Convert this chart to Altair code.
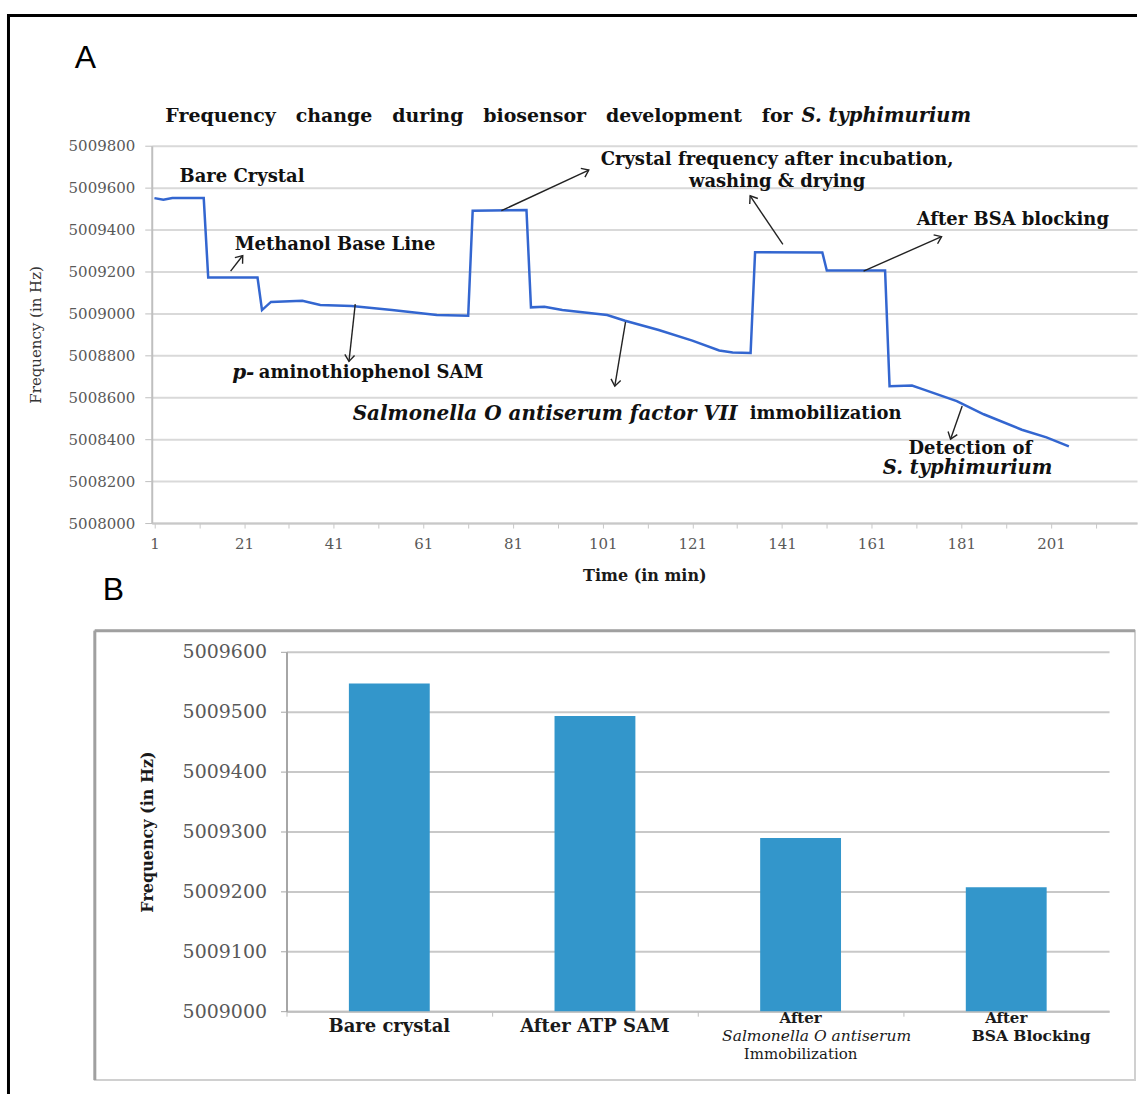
import math
import altair as alt
import pandas as pd

# ---------------- Panel A : frequency vs time ----------------
time_min = [1, 3, 5, 12, 13, 24, 25, 27, 34, 38, 45, 54, 64, 71, 72, 84, 85, 88, 92, 102,
            106, 113.5, 121, 127, 130, 134, 135, 150, 151, 164, 165, 170, 172, 180, 186, 194.5, 200, 205]
freq_hz = [5009550, 5009542, 5009550, 5009550, 5009171, 5009171, 5009016, 5009055, 5009060, 5009040,
           5009035, 5009016, 5008992, 5008989, 5009490, 5009493, 5009029, 5009032, 5009016, 5008992,
           5008965, 5008921, 5008870, 5008823, 5008814, 5008811, 5009292, 5009291, 5009205, 5009205,
           5008653, 5008656, 5008641, 5008582, 5008519, 5008445, 5008409, 5008366]
ytick_A = list(range(5008000, 5009801, 200))
xtick_A = list(range(1, 212, 10))

# arrows: tail (t1, f1) -> head (t2, f2)
arrow_t1 = [18.0, 45.8, 78.4, 141.2, 159.2, 106.1, 181.2]
arrow_f1 = [5009202, 5009044, 5009490, 5009329, 5009202, 5008960, 5008558]
arrow_t2 = [20.7, 44.4, 97.9, 133.9, 176.6, 103.7, 178.6]
arrow_f2 = [5009276, 5008771, 5009684, 5009561, 5009366, 5008653, 5008400]

# annotations
bold_left_lab = ["Bare Crystal", "Methanol Base Line", "aminothiophenol SAM", "immobilization"]
bold_left_t = [6.6, 18.9, 24.3, 133.8]
bold_left_f = [5009652, 5009324, 5008716, 5008519]

bold_center_lab = ["Crystal frequency after incubation,", "washing & drying", "After BSA blocking", "Detection of"]
bold_center_t = [139.9, 139.9, 192.5, 183.0]
bold_center_f = [5009730, 5009628, 5009447, 5008353]

ital_right_lab = ["p-", "Salmonella O antiserum factor VII"]
ital_right_t = [23.3, 131.1]
ital_right_f = [5008716, 5008519]

ital_center_lab = ["S. typhimurium"]
ital_center_t = [182.4]
ital_center_f = [5008261]

title_main = "Frequency\u00a0\u00a0 change\u00a0\u00a0 during\u00a0\u00a0 biosensor\u00a0\u00a0 development\u00a0\u00a0 for"
title_ital = "S. typhimurium"

# ---------------- Panel B : bars ----------------
stages = ["Bare crystal", "After ATP SAM", "After Salmonella O antiserum Immobilization", "After BSA Blocking"]
stage_freq = [5009547, 5009493, 5009289, 5009207]
ytick_B = list(range(5009000, 5009601, 100))
stage_label_lines = [["Bare crystal"], ["After ATP SAM"],
                     ["After", "Salmonella O antiserum", "Immobilization"],
                     ["After", "BSA Blocking"]]

# ---------------- layout constants ----------------
W_A, H_A = 987, 378
X_DOM = [0.4, 220.2]
Y_DOM_A = [5008000, 5009800]
W_B, H_B = 959, 360
serif = "DejaVu Serif"
one = pd.DataFrame({"k": [0]})


def xA(field):
    return alt.X(f"{field}:Q",
                 scale=alt.Scale(domain=X_DOM, nice=False, zero=False),
                 axis=alt.Axis(values=xtick_A,
                               labelExpr="(datum.value - 1) % 20 == 0 ? datum.label : ''",
                               grid=False, title="Time (in min)", titleFont=serif,
                               titleFontSize=16, titleFontWeight="bold", titleColor="#1a1a1a",
                               titleY=53, titleBaseline="middle",
                               labelFont=serif, labelFontSize=15, labelColor="#595959",
                               labelPadding=8, tickSize=5, tickColor="#c8c8c8",
                               domainColor="#c8c8c8", domainWidth=2, labelFlush=False))


def yA(field):
    return alt.Y(f"{field}:Q",
                 scale=alt.Scale(domain=Y_DOM_A, nice=False, zero=False),
                 axis=alt.Axis(values=ytick_A, format="d", title="Frequency (in Hz)",
                               titleFont=serif, titleFontSize=15, titleFontWeight="normal",
                               titleColor="#333333", titleX=-116, titleBaseline="middle",
                               labelFont=serif, labelFontSize=15, labelColor="#595959",
                               labelPadding=10, tickSize=7, tickColor="#bfbfbf",
                               domainColor="#bfbfbf", domainWidth=2,
                               gridColor="#d9d9d9", gridWidth=2))


def pix_text(txt, x, y, size, weight="bold", style="normal", align="left",
             baseline="middle", font=serif, color="#111111"):
    return alt.Chart(pd.DataFrame({"label": [txt]})).mark_text(
        align=align, baseline=baseline, font=font, fontSize=size,
        fontWeight=weight, fontStyle=style, color=color
    ).encode(x=alt.value(x), y=alt.value(y), text="label:N")


def note_layer(labels, ts, fs, align, size, style="normal"):
    df = pd.DataFrame({"label": labels, "t": ts, "f": fs})
    return alt.Chart(df).mark_text(
        align=align, baseline="middle", font=serif, fontSize=size,
        fontWeight="bold", fontStyle=style, color="#111111"
    ).encode(x=xA("t"), y=yA("f"), text="label:N")


dfA = pd.DataFrame({"t": time_min, "f": freq_hz})

px_min = W_A / (X_DOM[1] - X_DOM[0])
px_hz = H_A / (Y_DOM_A[1] - Y_DOM_A[0])
angles = []
for a, b, c, d in zip(arrow_t1, arrow_f1, arrow_t2, arrow_f2):
    dx = (c - a) * px_min
    dy = -(d - b) * px_hz
    angles.append(math.degrees(math.atan2(dx, -dy)) % 360)
dfArrow = pd.DataFrame({"t1": arrow_t1, "f1": arrow_f1, "t2": arrow_t2, "f2": arrow_f2, "ang": angles})

# invisible canvas-extent rect (fixes the overall page frame), then the black page border
bg = alt.Chart(one).mark_rect(opacity=0).encode(
    x=alt.value(-152), x2=alt.value(W_A), y=alt.value(-145), y2=alt.value(950))
border_top = alt.Chart(one).mark_rule(color="black", strokeWidth=3).encode(
    x=alt.value(-143.5), x2=alt.value(W_A), y=alt.value(-130.5))
border_left = alt.Chart(one).mark_rule(color="black", strokeWidth=3).encode(
    x=alt.value(-143.5), y=alt.value(-132), y2=alt.value(950))

line = alt.Chart(dfA).mark_line(color="#3366d0", strokeWidth=2.5).encode(x=xA("t"), y=yA("f"))

arrow_lines = alt.Chart(dfArrow).mark_rule(color="#222222", strokeWidth=1.4).encode(
    x=xA("t1"), y=yA("f1"), x2="t2:Q", y2="f2:Q")
arrow_heads = alt.Chart(dfArrow).mark_point(
    shape="M -0.75 1 L 0 0 L 0.75 1", filled=False, size=170, strokeWidth=1.4,
    color="#222222", opacity=1
).encode(x=xA("t2"), y=yA("f2"), angle=alt.Angle("ang:Q", scale=None))

panelA = alt.layer(
    bg, border_top, border_left,
    line, arrow_lines, arrow_heads,
    note_layer(bold_left_lab, bold_left_t, bold_left_f, "left", 18),
    note_layer(bold_center_lab, bold_center_t, bold_center_f, "center", 18),
    note_layer(ital_right_lab, ital_right_t, ital_right_f, "right", 20, "italic"),
    note_layer(ital_center_lab, ital_center_t, ital_center_f, "center", 19.5, "italic"),
    pix_text(title_main, 642, -30, 19, align="right"),
    pix_text(title_ital, 651, -30, 19.5, style="italic", align="left"),
    pix_text("A", -77, -78, 32, weight="normal", baseline="alphabetic", font="Liberation Sans", color="#000000"),
    pix_text("B", -49, 455, 32, weight="normal", baseline="alphabetic", font="Liberation Sans", color="#000000"),
).properties(width=W_A, height=H_A)

# ---------------- Panel B ----------------
def xB():
    return alt.X("stage:N", sort=stages,
                 scale=alt.Scale(range=[135, W_B], paddingInner=0, paddingOuter=0),
                 axis=alt.Axis(labels=False, title="", bandPosition=0, tickSize=5,
                               tickColor="#bfbfbf", domainColor="#bfbfbf", domainWidth=2))


yB = alt.Y("freq:Q", scale=alt.Scale(domain=[5009000, 5009600], nice=False, zero=False),
           axis=alt.Axis(values=ytick_B, format="d", offset=-135, title="Frequency (in Hz)",
                         titleFont=serif, titleFontSize=16, titleFontWeight="bold",
                         titleColor="#1a1a1a", titleX=-139.5, titleBaseline="middle",
                         labelFont=serif, labelFontSize=19, labelColor="#595959",
                         labelPadding=14, tickSize=6, tickColor="#a6a6a6",
                         domainColor="#a6a6a6", domainWidth=2,
                         gridColor="#c8c8c8", gridWidth=2))

dfB = pd.DataFrame({"stage": stages, "freq": stage_freq})

frame = alt.Chart(one).mark_rect(filled=False, stroke="#d0d0d0", strokeWidth=2).encode(
    x=alt.value(-57), x2=alt.value(985), y=alt.value(-21), y2=alt.value(429))
frame_top = alt.Chart(one).mark_rule(color="#a0a0a0", strokeWidth=3).encode(
    x=alt.value(-57), x2=alt.value(985), y=alt.value(-21))
frame_left = alt.Chart(one).mark_rule(color="#a0a0a0", strokeWidth=3).encode(
    x=alt.value(-57), y=alt.value(-21), y2=alt.value(429))

bars = alt.Chart(dfB).mark_bar(size=81, color="#3396cb").encode(
    x=xB(), y=yB, y2=alt.datum(5009000))


def label_layer(rows, y, size, weight="bold", style="normal", dx=0):
    df = pd.DataFrame({"stage": [r[0] for r in rows], "label": [r[1] for r in rows]})
    return alt.Chart(df).mark_text(
        align="center", baseline="middle", font=serif, fontSize=size, fontWeight=weight,
        fontStyle=style, color="#1a1a1a", dx=dx
    ).encode(x=xB(), y=alt.value(y), text="label:N")


single = [(s, l[0]) for s, l in zip(stages, stage_label_lines) if len(l) == 1]
line1 = [(s, l[0]) for s, l in zip(stages, stage_label_lines) if len(l) > 1]
line2_it = [(stages[2], stage_label_lines[2][1])]
line2_bold = [(stages[3], stage_label_lines[3][1])]
line3 = [(stages[2], stage_label_lines[2][2])]

panelB = alt.layer(
    frame, frame_top, frame_left, bars,
    label_layer(single, 376, 18),
    label_layer(line1, 367, 15),
    label_layer(line2_it, 385, 15.5, weight="normal", style="italic", dx=16),
    label_layer(line2_bold, 385, 15.5, dx=25),
    label_layer(line3, 403, 15, weight="normal"),
).properties(width=W_B, height=H_B)

chart = alt.vconcat(panelA, panelB, spacing=129, bounds="flush").properties(
    padding={"left": 0, "top": 0, "right": 0, "bottom": 0}
).configure(background="white").configure_view(strokeWidth=0)

chart.save("out.html", embed_options={"renderer": "svg", "actions": False})
